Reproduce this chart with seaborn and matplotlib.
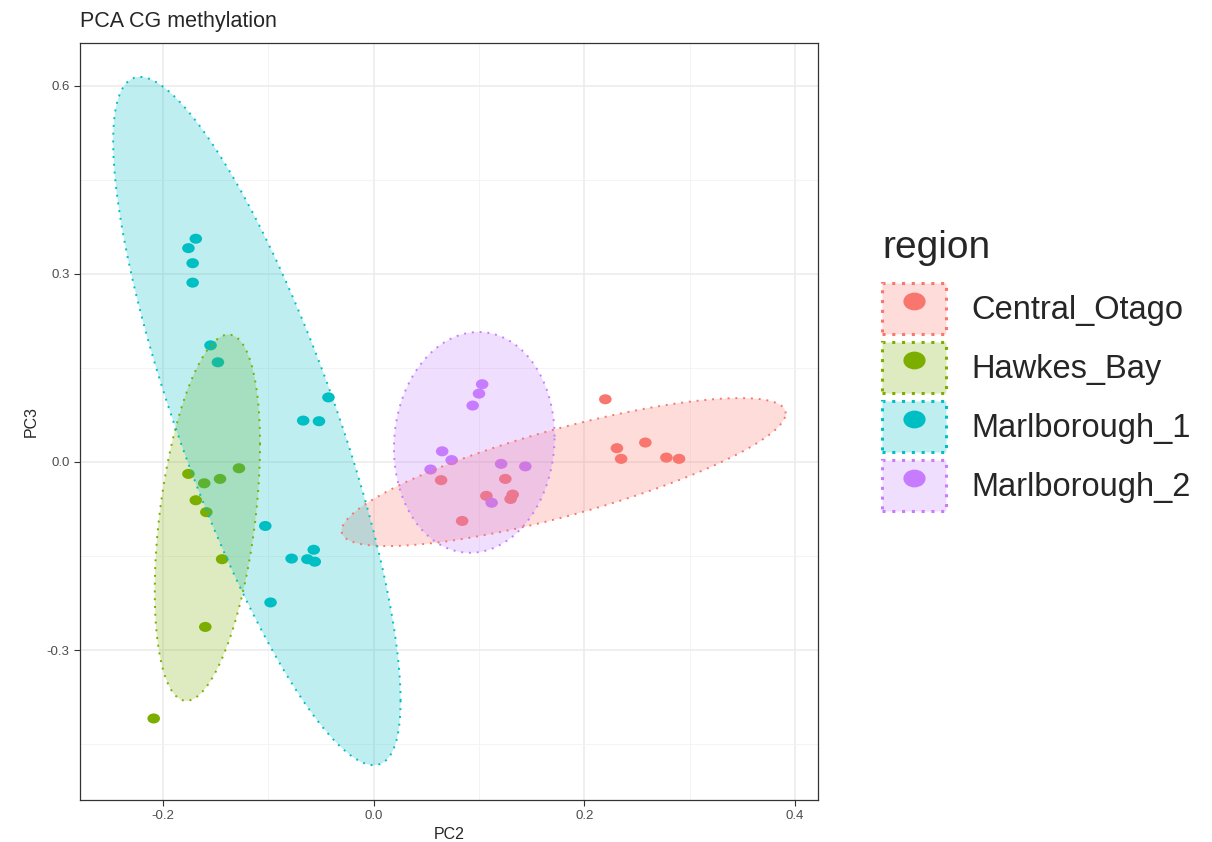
import numpy as np
import pandas as pd
import matplotlib
matplotlib.use("Agg")
import matplotlib.pyplot as plt
import seaborn as sns
from matplotlib.path import Path
from matplotlib.markers import MarkerStyle
from matplotlib.transforms import Affine2D
from matplotlib.patches import Patch
from matplotlib.lines import Line2D
from matplotlib.legend_handler import HandlerTuple

# PCA scores
regions = ["Central_Otago", "Hawkes_Bay", "Marlborough_1", "Marlborough_2"]
colors = ["#F8766D", "#7CAE00", "#00BFC4", "#C77CFF"]

co_pc2 = [0.220, 0.231, 0.258, 0.235, 0.278, 0.290, 0.064, 0.125, 0.107, 0.132, 0.130, 0.084]
co_pc3 = [0.100, 0.022, 0.031, 0.005, 0.007, 0.005, -0.029, -0.027, -0.054, -0.052, -0.059, -0.094]

hb_pc2 = [-0.176, -0.161, -0.146, -0.128, -0.169, -0.159, -0.144, -0.160, -0.209]
hb_pc3 = [-0.019, -0.034, -0.027, -0.010, -0.061, -0.080, -0.155, -0.263, -0.409]

m1_pc2 = [-0.169, -0.176, -0.172, -0.172, -0.155, -0.148, -0.043, -0.067, -0.052,
          -0.103, -0.057, -0.078, -0.063, -0.056, -0.098]
m1_pc3 = [0.356, 0.341, 0.317, 0.286, 0.186, 0.159, 0.103, 0.066, 0.065,
          -0.102, -0.140, -0.154, -0.155, -0.159, -0.224]

m2_pc2 = [0.103, 0.100, 0.094, 0.065, 0.074, 0.054, 0.121, 0.144, 0.112]
m2_pc3 = [0.124, 0.109, 0.090, 0.017, 0.003, -0.012, -0.003, -0.007, -0.065]

# ellipse outlines: centre, half width, half height, xy spread
ell_cx = [0.1804, -0.158, -0.111, 0.0955]
ell_cy = [-0.0161, -0.0888, 0.0653, 0.0312]
ell_w = [0.2109, 0.050, 0.1365, 0.0763]
ell_h = [0.118, 0.292, 0.5487, 0.176]
ell_sxy = [0.01974, 0.00584, -0.0609, 0.00071]

df = pd.concat([
    pd.DataFrame({"PC2": co_pc2, "PC3": co_pc3, "region": regions[0]}),
    pd.DataFrame({"PC2": hb_pc2, "PC3": hb_pc3, "region": regions[1]}),
    pd.DataFrame({"PC2": m1_pc2, "PC3": m1_pc3, "region": regions[2]}),
    pd.DataFrame({"PC2": m2_pc2, "PC3": m2_pc3, "region": regions[3]}),
], ignore_index=True)

sns.set_style("white")
plt.rcParams["font.family"] = ["Liberation Sans", "DejaVu Sans"]

fig = plt.figure(figsize=(12.12, 8.42), dpi=100)
ax = fig.add_axes([80 / 1212, 1 - 800 / 842, 738 / 1212, (800 - 42.7) / 842])

# slightly wide dots, as in the picture
dot = Path(Affine2D().scale(1, 0.8).transform(Path.unit_circle().vertices),
           Path.unit_circle().codes)

sns.scatterplot(data=df, x="PC2", y="PC3", hue="region", hue_order=regions,
                palette=colors, marker=MarkerStyle(dot), s=82, linewidth=0,
                legend=False, ax=ax, zorder=2)

t = np.linspace(0, 2 * np.pi, 300)
for i, c in enumerate(colors):
    cov = np.array([[ell_w[i] ** 2, ell_sxy[i]], [ell_sxy[i], ell_h[i] ** 2]])
    L = np.linalg.cholesky(cov)
    pts = L @ np.vstack([np.cos(t), np.sin(t)])
    ex = ell_cx[i] + pts[0]
    ey = ell_cy[i] + pts[1]
    ax.fill(ex, ey, facecolor=c, alpha=0.25, edgecolor="none", zorder=3)
    ax.plot(ex, ey, color=c, lw=1.4, linestyle=(0, (1, 3)), zorder=4)

ax.set_xlim(-0.279, 0.422)
ax.set_ylim(-0.539, 0.6686)
ax.set_xticks([-0.2, 0.0, 0.2, 0.4])
ax.set_xticklabels(["-0.2", "0.0", "0.2", "0.4"])
ax.set_yticks([-0.3, 0.0, 0.3, 0.6])
ax.set_yticklabels(["-0.3", "0.0", "0.3", "0.6"])
ax.set_xticks([-0.1, 0.1, 0.3], minor=True)
ax.set_yticks([-0.45, -0.15, 0.15, 0.45], minor=True)
ax.grid(True, which="major", color="#EBEBEB", lw=1.1, zorder=0)
ax.grid(True, which="minor", color="#F2F2F2", lw=0.6, zorder=0)
ax.set_axisbelow(True)
ax.tick_params(which="major", length=4, width=0.8, color="#333333",
               labelcolor="#4D4D4D", labelsize=9.5, bottom=True, left=True)
ax.tick_params(which="minor", length=0)
for sp in ax.spines.values():
    sp.set_color("#333333")
    sp.set_linewidth(0.9)

ax.set_xlabel("PC2", fontsize=11.5, labelpad=3)
ax.set_ylabel("PC3", fontsize=11.5, labelpad=6)
ax.set_title("PCA CG methylation", loc="left", fontsize=15.5, pad=11)

handles = []
for c in colors:
    box = Patch(facecolor=(*matplotlib.colors.to_rgb(c), 0.25), edgecolor=c,
                linestyle=(0, (1, 2.2)), linewidth=2.2)
    pt = Line2D([], [], marker=MarkerStyle(dot), linestyle="", color=c,
                markersize=16, markeredgewidth=0)
    handles.append((box, pt))

leg = fig.legend(handles, regions, handler_map={tuple: HandlerTuple(ndivide=1)},
                 title="region", loc="upper left",
                 bbox_to_anchor=(866 / 1212, 1 - 214 / 842), frameon=False,
                 fontsize=23.5, title_fontsize=28, handlelength=1.95,
                 handleheight=2.05, labelspacing=0.23, handletextpad=0.77,
                 borderpad=0)
leg._legend_box.align = "left"
leg._legend_box.sep = 12  # extra room under the legend title

fig.savefig("out.png", dpi=100)
